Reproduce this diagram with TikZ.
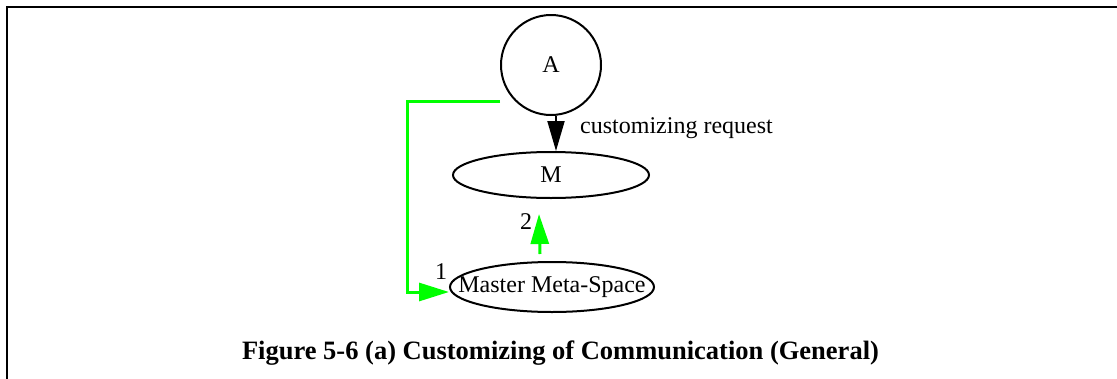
\documentclass[tikz,border=0pt]{standalone}
\usepackage{fontspec}
\setmainfont{Liberation Serif}
\usetikzlibrary{arrows.meta,shapes.geometric}
\definecolor{flowgreen}{RGB}{0,255,0}
\tikzset{
  lbl/.style={font=\fontsize{24}{28}\selectfont, inner sep=0pt},
  stateell/.style={ellipse, draw, line width=2pt, inner sep=0pt, font=\fontsize{24}{28}\selectfont},
  blackflow/.style={line width=2pt, -{Triangle[length=30pt,width=17pt]}},
  greenflow/.style={draw=flowgreen, line width=3pt, -{Triangle[length=30pt,width=18pt,fill=flowgreen]}},
}
\begin{document}
\begin{tikzpicture}[x=1pt,y=-1pt]
\useasboundingbox (0,0) rectangle (1117,378);
% open frame: left and top edges
\draw[line width=2pt] (7,380) -- (7,7) -- (1120,7);

% nodes
\node[circle, draw, line width=2pt, minimum size=100pt, inner sep=0pt,
      font=\fontsize{24}{28}\selectfont] (A) at (551,65) {A};
\node[stateell, minimum width=196pt, minimum height=46pt] (M) at (551,175) {M};
% the outline is kept at a fixed size; the text sits on top of it
\node[stateell, minimum width=204pt, minimum height=50pt] (MMS) at (552,287) {};
\node[lbl] (mmstext) at (MMS.center) {Master Meta-Space};

% customizing request
\draw[blackflow] ([xshift=5pt]A.south) -- ([xshift=5pt]M.north);
\node[lbl, anchor=west] (req) at (580,128) {customizing request};

% step 1: from A round the left to the master meta-space
\coordinate (gstart) at ([xshift=-51pt,yshift=-36pt]A.center);
\draw[greenflow] (gstart) -- ++(-93,0) |- ([yshift=-5pt]MMS.west);
\node[lbl] (one) at (441,272) {1};

% step 2: master meta-space up to M
\draw[greenflow] ([xshift=-12pt,yshift=7pt]MMS.north) -- ([xshift=-12pt,yshift=-15pt]M.south);
\node[lbl] (two) at (526,222) {2};

% caption
\node[font=\fontsize{26.5}{30}\selectfont\bfseries, inner sep=0pt] (cap) at (560.5,353)
  {Figure 5-6 (a) Customizing of Communication (General)};
\end{tikzpicture}
\end{document}
